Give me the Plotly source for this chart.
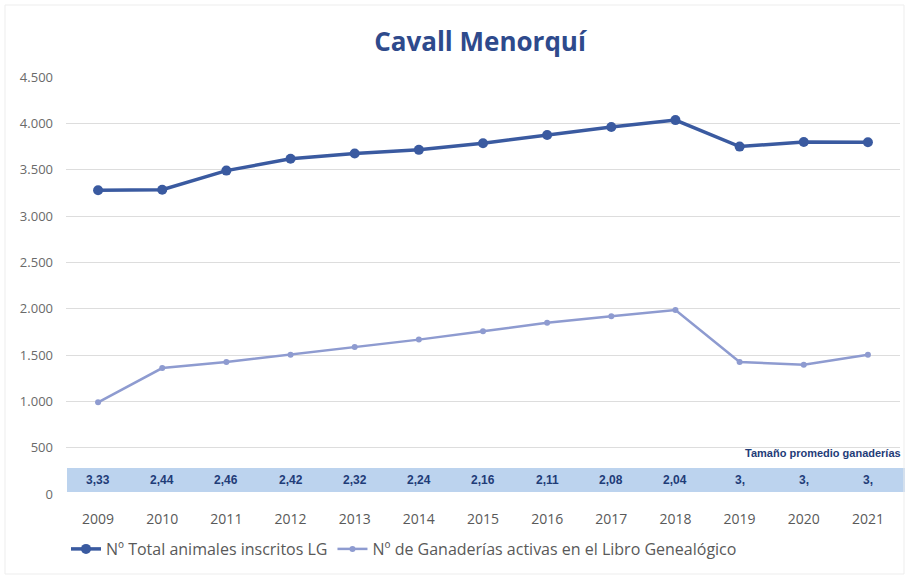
import plotly.graph_objects as go

years = ["2009", "2010", "2011", "2012", "2013", "2014", "2015", "2016", "2017", "2018", "2019", "2020", "2021"]
total_animales = [3277, 3284, 3490, 3617, 3674, 3714, 3785, 3874, 3960, 4035, 3749, 3799, 3796]
ganaderias = [989, 1359, 1424, 1503, 1587, 1666, 1757, 1847, 1917, 1985, 1424, 1395, 1503]
tamano_labels = ["3,33", "2,44", "2,46", "2,42", "2,32", "2,24", "2,16", "2,11", "2,08", "2,04", "3,", "3,", "3,"]
y_ticks = [0, 500, 1000, 1500, 2000, 2500, 3000, 3500, 4000, 4500]
y_tick_text = ["0", "500", "1.000", "1.500", "2.000", "2.500", "3.000", "3.500", "4.000", "4.500"]

W, H = 905, 575
L, R, T, B = 66, 5, 77, 81
pw, ph = W - L - R, H - T - B

fig = go.Figure()
fig.add_trace(go.Scatter(
    x=years, y=total_animales, mode="lines+markers",
    name="Nº Total animales inscritos LG",
    line=dict(color="#3A5AA0", width=3.5),
    marker=dict(color="#3A5AA0", size=10),
))
fig.add_trace(go.Scatter(
    x=years, y=ganaderias, mode="lines+markers",
    name="Nº de Ganaderías activas en el Libro Genealógico",
    line=dict(color="#8E9BD0", width=2.5),
    marker=dict(color="#8E9BD0", size=6),
))

shapes = []
# light blue band holding the average-size row
shapes.append(dict(type="rect", xref="paper", yref="y", x0=(67 - L) / pw, x1=(W - L) / pw, y0=22, y1=280,
                   fillcolor="#BCD3EE", line=dict(width=0), layer="below"))
# faint outer border
shapes.append(dict(type="rect", xref="paper", yref="paper",
                   x0=(5 - L) / pw, x1=(W - 1 - L) / pw,
                   y0=(T + ph - (H - 1)) / ph, y1=(T + ph - 5) / ph,
                   line=dict(color="#EDEDED", width=1), fillcolor="rgba(0,0,0,0)", layer="below"))

annotations = []
for i, lab in enumerate(tamano_labels):
    annotations.append(dict(x=i, y=150, xref="x", yref="y", text="<b>" + lab + "</b>",
                            showarrow=False,
                            font=dict(family="Liberation Sans", size=12, color="#1F3C78")))
annotations.append(dict(x=(903 - L) / pw, y=445, xref="paper", yref="y", xanchor="right",
                        text="<b>Tamaño promedio ganaderías</b>", showarrow=False,
                        font=dict(family="Liberation Sans", size=11, color="#1F3C78")))

fig.update_layout(
    width=W, height=H,
    margin=dict(l=L, r=R, t=T, b=B, autoexpand=False),
    paper_bgcolor="white", plot_bgcolor="white",
    title=dict(text="<b>Cavall Menorquí</b>", x=480 / W, xanchor="center",
               y=1 - 42 / H, yanchor="middle",
               font=dict(family="Open Sans", size=26, color="#2E4A8C")),
    xaxis=dict(type="category", range=[-0.5, 12.5], showgrid=False, showline=False, ticks="",
               automargin=False, ticklabelstandoff=15,
               tickfont=dict(family="Open Sans, Liberation Sans", size=14, color="#595959")),
    yaxis=dict(range=[0, 4500], tickvals=y_ticks, ticktext=y_tick_text, showgrid=True,
               gridcolor="#DDDDDD", gridwidth=1, zeroline=False, showline=False,
               automargin=False,
               tickfont=dict(family="Open Sans, Liberation Sans", size=13, color="#6A6A6A"),
               ticklabelstandoff=12),
    legend=dict(orientation="h", x=0.0, y=(494 - 549) / ph, yanchor="middle", xanchor="left",
                font=dict(family="Open Sans, Liberation Sans", size=16, color="#595959"),
                itemwidth=30, tracegroupgap=0),
    shapes=shapes,
    annotations=annotations,
    showlegend=True,
)

fig.write_html("out.html", config={"displayModeBar": False},
               post_script="document.body.style.margin='0';")
